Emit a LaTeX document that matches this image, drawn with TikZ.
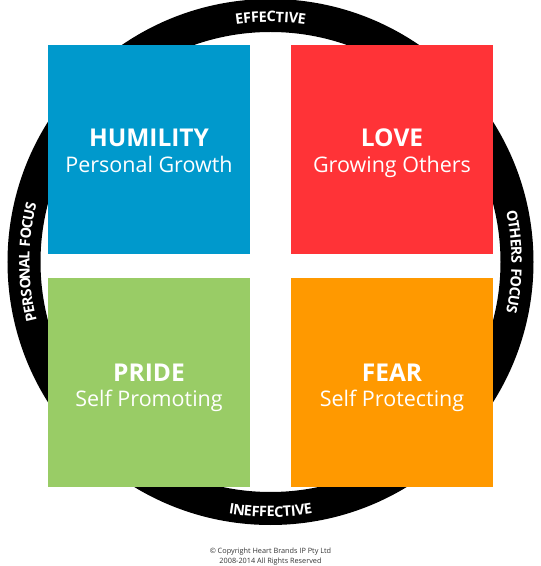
\documentclass[tikz,border=0pt]{standalone}
\usepackage{fontspec}
\setmainfont{Open Sans}
\usetikzlibrary{decorations.text,calc}
\definecolor{qblue}{RGB}{0,153,204}
\definecolor{qred}{RGB}{255,51,55}
\definecolor{qgreen}{RGB}{153,204,102}
\definecolor{qorange}{RGB}{255,153,0}
\newcommand{\ringfont}{\fontsize{14.5}{16}\selectfont\bfseries}
\tikzset{
  quad/.style={minimum width=202pt, minimum height=209pt, inner sep=0pt, draw=none},
  ttl/.style={text=white, anchor=base, inner sep=0pt, font=\fontsize{24.5}{28}\selectfont\bfseries},
  sub/.style={text=white, anchor=base, inner sep=0pt, font=\fontsize{21.5}{25}\selectfont},
  ringtext/.style={decorate, decoration={text effects along path, text align=center,
     text effects/.cd, text along path, character widths={inner xsep=1.2pt},
     characters={text=white, font=\ringfont}}},
  copy/.style={anchor=base, inner sep=0pt, font=\fontsize{7.3}{9}\selectfont, text=black!80}
}
\begin{document}
\begin{tikzpicture}[x=1pt,y=1pt]
\useasboundingbox (0,0) rectangle (541,566);
\coordinate (C) at (270.5,304);
% ring
\draw[line width=33pt, black] (C) circle[radius=246.5];
% ring labels
\path[decoration={text effects along path, text={EFFECTIVE}}, ringtext]
  ($(C)+(125:240)$) arc[start angle=125, end angle=55, radius=240];
\path[decoration={text effects along path, text={PERSONAL FOCUS}}, ringtext]
  ($(C)+(220:241)$) arc[start angle=220, end angle=140, radius=241];
\path[decoration={text effects along path, text={OTHERS FOCUS}}, ringtext]
  ($(C)+(40:241)$) arc[start angle=40, end angle=-40, radius=241];
\path[decoration={text effects along path, text={INEFFECTIVE}}, ringtext]
  ($(C)+(235:255)$) arc[start angle=235, end angle=305, radius=255];
% quadrants
\node[quad, fill=qblue]   (hum)  at (149,416.5) {};
\node[quad, fill=qred]    (love) at (392,416.5) {};
\node[quad, fill=qgreen]  (pride) at (149,183) {};
\node[quad, fill=qorange] (fear) at (392,183) {};
% texts
\node[ttl] (humt) at ($(hum.center)+(0,2.5)$) {HUMILITY};
\node[sub] (hums) at ($(hum.center)+(0,-23.5)$) {Personal Growth};
\node[ttl] (lovet) at ($(love.center)+(0,2.5)$) {LOVE};
\node[sub] (loves) at ($(love.center)+(0,-23.5)$) {Growing Others};
\node[ttl] (pridet) at ($(pride.center)+(0,1)$) {PRIDE};
\node[sub] (prides) at ($(pride.center)+(0,-24)$) {Self Promoting};
\node[ttl] (feart) at ($(fear.center)+(0,1)$) {FEAR};
\node[sub] (fears) at ($(fear.center)+(0,-24)$) {Self Protecting};
% copyright
\node[copy] (cp1) at (270.5,12.5) {© Copyright Heart Brands IP Pty Ltd};
\node[copy] (cp2) at (270.5,2.5) {2008-2014 All Rights Reserved};
\end{tikzpicture}
\end{document}
